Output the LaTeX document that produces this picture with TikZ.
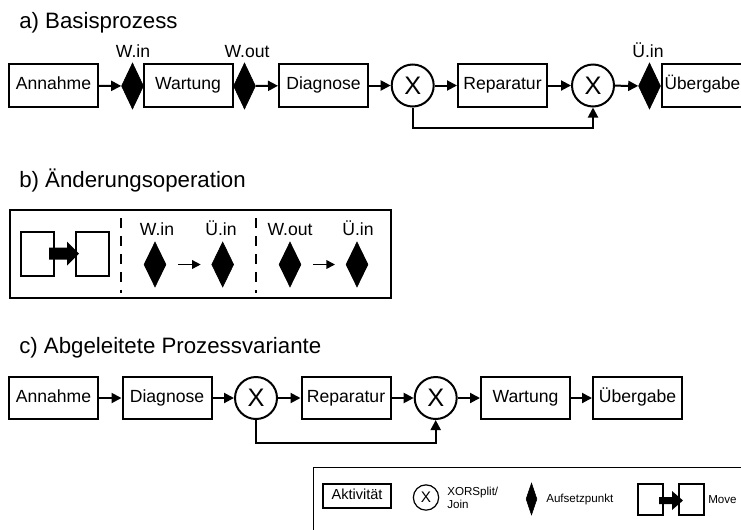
\documentclass[tikz,border=0pt]{standalone}
\usepackage{fontspec}
\setmainfont{Liberation Sans}
\usetikzlibrary{arrows.meta,shapes.geometric}

\begin{document}
\begin{tikzpicture}[x=0.75pt,y=-0.75pt,
  act/.style={draw,line width=1.5pt,minimum width=66.75pt,minimum height=32pt,
    inner sep=0pt,text height=9.45pt,text depth=2.8pt,font=\fontsize{13.2}{15}\selectfont},
  xor/.style={draw,circle,line width=1.5pt,minimum size=31.5pt,inner sep=0pt,
    font=\fontsize{19}{20}\selectfont},
  anchorpt/.style={diamond,fill=black,draw=black,line width=0.5pt,
    minimum width=16.5pt,minimum height=34.5pt,inner sep=0pt},
  flow/.style={line width=1.5pt,-{Triangle[length=7.5pt,width=7.5pt]}},
  thinflow/.style={line width=1.2pt,-{Triangle[length=6.5pt,width=6.5pt]}},
  lbl/.style={font=\fontsize{13.2}{15}\selectfont,anchor=base,inner sep=0pt},
  heading/.style={font=\fontsize{16.7}{19}\selectfont,anchor=base west,inner sep=0pt},
  sep/.style={line width=1.5pt,dash pattern=on 7.5pt off 6pt},
  movebox/.style={draw,line width=1.5pt,minimum width=24.75pt,minimum height=33pt,inner sep=0pt},
  legtext/.style={font=\fontsize{8.7}{9.4}\selectfont,anchor=west,inner sep=0pt,align=left},
  legbox/.style={draw,line width=0.9pt,minimum width=18.75pt,minimum height=23.25pt,inner sep=0pt},
]
\useasboundingbox (0,0) rectangle (741,529);
\clip (0,0) rectangle (741,529);

% ---------- a) Basisprozess ----------
\node[heading] (ta) at (19,28) {a) Basisprozess};
\node[act] (a1) at (53.5,85.5) {Annahme};
\node[anchorpt] (ad1) at (132.5,86) {};
\node[act] (a2) at (188,85.5) {Wartung};
\node[anchorpt] (ad2) at (244.5,86) {};
\node[act] (a3) at (323.5,85.5) {Diagnose};
\node[xor] (ax1) at (412.7,85.5) {X};
\node[act] (a4) at (502.5,85.5) {Reparatur};
\node[xor] (ax2) at (593,85.5) {X};
\node[anchorpt] (ad3) at (649.5,86) {};
\node[act,minimum width=60.75pt,font=\fontsize{12.9}{15}\selectfont] (a5) at (702.5,85.5) {Übergabe};

\node[lbl] (lwin) at (133,57) {W.in};
\node[lbl] (lwout) at (247,57) {W.out};
\node[lbl] (luin) at (648,57) {Ü.in};

\draw[flow] (a1) -- (ad1);
\draw[flow] (ad2) -- (a3);
\draw[flow] (a3) -- (ax1);
\draw[flow] (ax1) -- (a4);
\draw[flow] (a4) -- (ax2);
\draw[flow] (ax2) -- (ad3);
\coordinate (loopa) at (0,128);
\draw[flow] (ax1.south) -- (ax1.south |- loopa) -| (ax2.south);

% ---------- b) Änderungsoperation ----------
\node[heading] (tb) at (19,187) {b) Änderungsoperation};
\node[draw,line width=1.5pt,minimum width=285.75pt,minimum height=66pt,inner sep=0pt]
  (bframe) at (200.5,254) {};

% move symbol
\node[movebox] (bm1) at (37.5,254) {};
\node[movebox] (bm2) at (92.5,254) {};
\coordinate (bmv) at (49,253);
\fill (bmv) ++(0,-5.5) -- ++(18,0) -- ++(0,-6) -- ++(12,12) -- ++(-12,12)
  -- ++(0,-6) -- ++(-18,0) -- cycle;

\coordinate (s1t) at (121,218); \coordinate (s1b) at (121,293);
\coordinate (s2t) at (256,218); \coordinate (s2b) at (256,293);
\draw[sep] (s1t) -- (s1b);
\draw[sep] (s2t) -- (s2b);

\node[anchorpt,minimum height=33.75pt] (bd1) at (155,264.5) {};
\node[anchorpt,minimum height=33.75pt] (bd2) at (222.7,264.5) {};
\node[anchorpt,minimum height=33.75pt] (bd3) at (290,264.5) {};
\node[anchorpt,minimum height=33.75pt] (bd4) at (357,264.5) {};
\draw[thinflow,shorten <=9pt,shorten >=8pt] (bd1) -- (bd2);
\draw[thinflow,shorten <=9pt,shorten >=8pt] (bd3) -- (bd4);

\node[lbl] (bl1) at (157,235) {W.in};
\node[lbl] (bl2) at (221,235) {Ü.in};
\node[lbl] (bl3) at (290,235) {W.out};
\node[lbl] (bl4) at (358,235) {Ü.in};

% ---------- c) Abgeleitete Prozessvariante ----------
\node[heading] (tc) at (19,353) {c) Abgeleitete Prozessvariante};
\node[act,minimum height=31.5pt] (c1) at (53.5,398) {Annahme};
\node[act,minimum height=31.5pt] (c2) at (167,398) {Diagnose};
\node[xor] (cx1) at (256,398) {X};
\node[act,minimum height=31.5pt] (c3) at (346,398) {Reparatur};
\node[xor] (cx2) at (435.7,398) {X};
\node[act,minimum height=31.5pt] (c4) at (525.5,398) {Wartung};
\node[act,minimum height=31.5pt] (c5) at (637.5,398) {Übergabe};

\draw[flow] (c1) -- (c2);
\draw[flow] (c2) -- (cx1);
\draw[flow] (cx1) -- (c3);
\draw[flow] (c3) -- (cx2);
\draw[flow] (cx2) -- (c4);
\draw[flow] (c4) -- (c5);
\coordinate (loopc) at (0,443);
\draw[flow] (cx1.south) -- (cx1.south |- loopc) -| (cx2.south);

% ---------- legend ----------
\node[draw,line width=1.1pt,minimum width=335pt,minimum height=60pt,inner sep=0pt,anchor=north west]
  (legend) at (313,467) {};
\node[draw,line width=0.9pt,minimum width=51pt,minimum height=18pt,inner sep=0pt,
  text height=7.8pt,text depth=2.3pt,
  font=\fontsize{10.9}{12}\selectfont] (lg1) at (357,496) {Aktivität};
\node[draw,circle,line width=0.9pt,minimum size=19pt,inner sep=0pt,
  font=\fontsize{11.5}{12}\selectfont] (lg2) at (426,497.5) {X};
\node[legtext] (lg2t) at (447,497.7) {XORSplit/\\Join};
\node[diamond,fill=black,draw=black,line width=0.4pt,minimum width=8.25pt,minimum height=24pt,
  inner sep=0pt] (lg3) at (531.5,499) {};
\node[legtext] (lg3t) at (546,499) {Aufsetzpunkt};
\node[legbox] (lg4a) at (650.5,499.5) {};
\node[legbox] (lg4b) at (691.5,499.5) {};
\coordinate (lmv) at (659,500.5);
\fill (lmv) ++(0,-3.5) -- ++(13,0) -- ++(0,-6) -- ++(11,9.5) -- ++(-11,9.5)
  -- ++(0,-6) -- ++(-13,0) -- cycle;
\node[legtext] (lg4t) at (708,500) {Move};
\end{tikzpicture}
\end{document}
